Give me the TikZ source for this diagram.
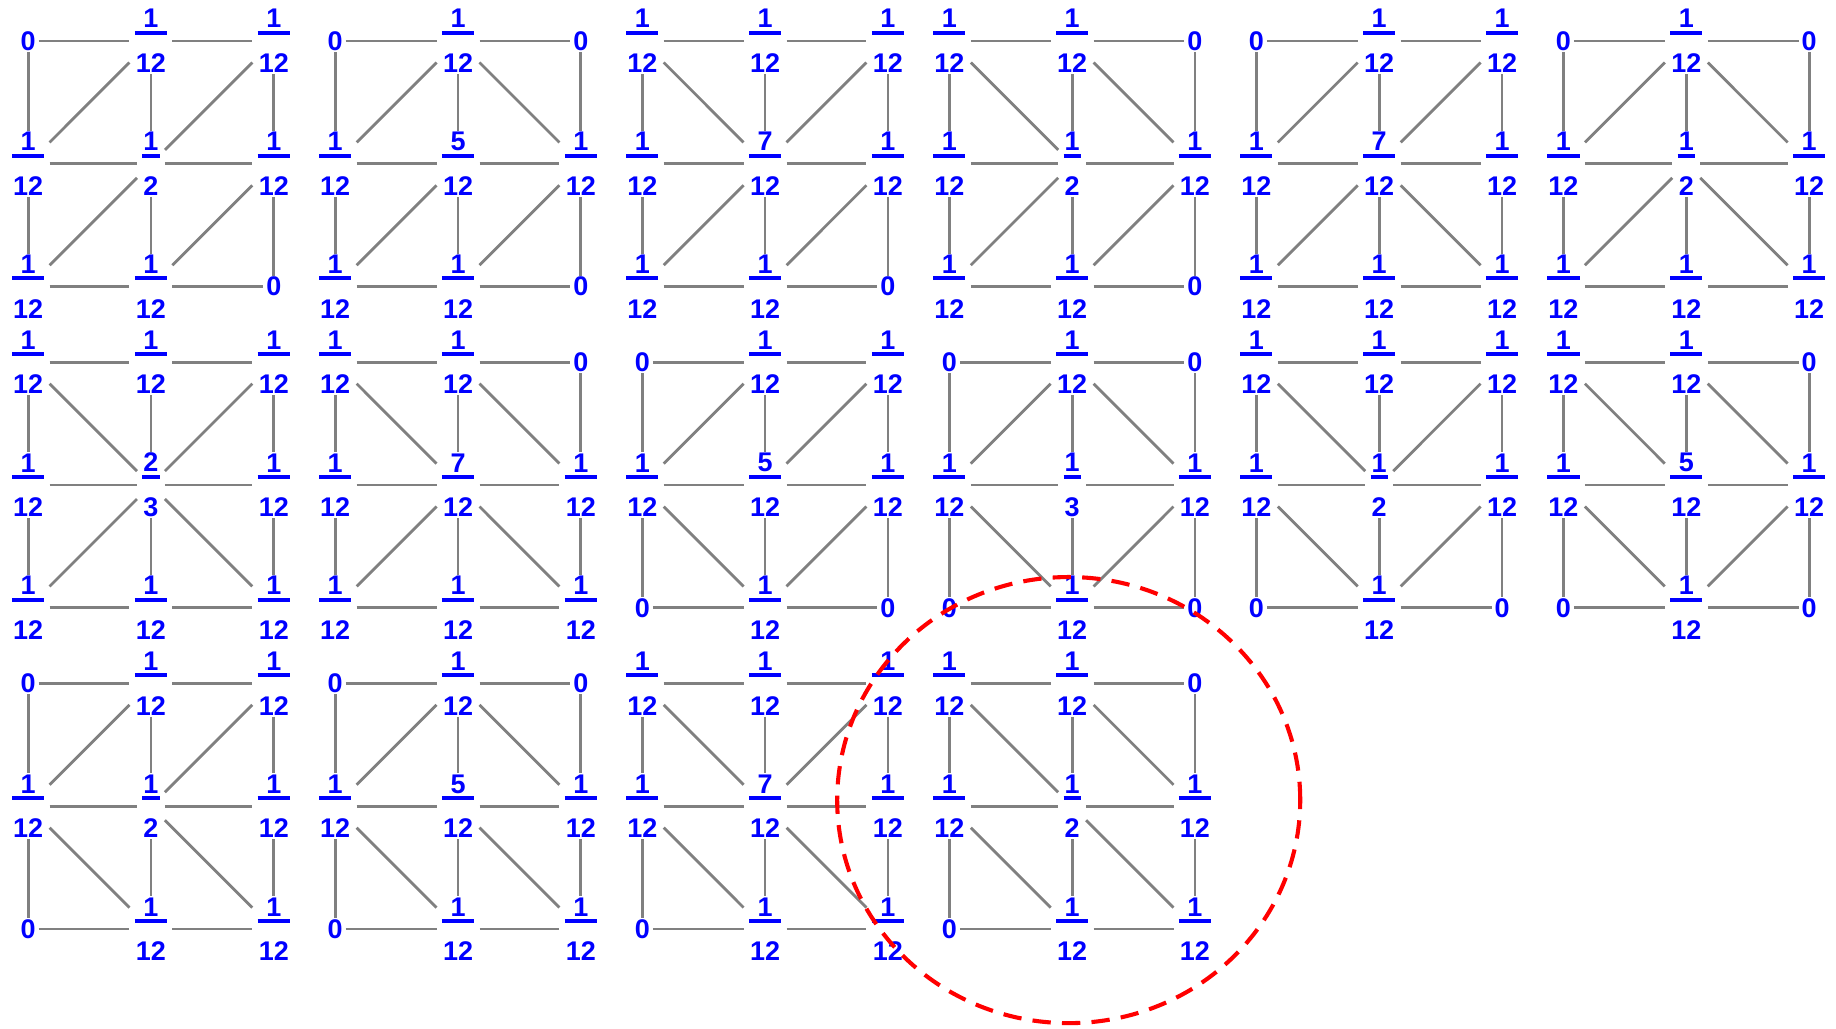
\documentclass[tikz,border=0pt]{standalone}
\usepackage{fontspec}
\setmainfont{Liberation Sans}
\definecolor{edgegray}{RGB}{128,128,128}

\newcommand{\vfr}[2]{\vbox{\offinterlineskip
  \halign{\hfil\kern0.5pt##\kern0.5pt\hfil\cr
    #1\cr
    \noalign{\kern1.3pt\hrule height1.85pt\kern8.8pt}
    #2\cr}}}

\newcommand{\panel}[4]{%
  \begin{scope}[shift={#2}]
    \foreach \nm/\dn [count=\i from 0] in {#3} {
      \pgfmathtruncatemacro\rowi{div(\i,3)}
      \pgfmathtruncatemacro\coli{mod(\i,3)}
      \ifnum\dn=1\relax
        \node[vzero] (#1-\rowi\coli) at (\coli,-\rowi) {\nm};
      \else
        \node[vfrac] (#1-\rowi\coli) at (\coli,-\rowi) {\vfr{\nm}{\dn}};
      \fi
    }
    \foreach \rowi in {0,1,2} {
      \foreach \coli/\colj in {0/1,1/2} {
        \draw[link] (#1-\rowi\coli) -- (#1-\rowi\colj);
        \draw[link] (#1-\coli\rowi) -- (#1-\colj\rowi);
      }
    }
    \foreach \dg [count=\k from 0] in {#4} {
      \pgfmathtruncatemacro\rowi{div(\k,2)}
      \pgfmathtruncatemacro\coli{mod(\k,2)}
      \pgfmathtruncatemacro\rowj{\rowi+1}
      \pgfmathtruncatemacro\colj{\coli+1}
      \if\dg u
        \draw[link] (#1-\rowj\coli) -- (#1-\rowi\colj);
      \else
        \draw[link] (#1-\rowi\coli) -- (#1-\rowj\colj);
      \fi
    }
  \end{scope}}

\begin{document}
\begin{tikzpicture}[x=2cm, y=2cm,
  vfrac/.style={inner xsep=2.3pt, inner ysep=0.5pt, text=blue,
    font=\fontsize{12.5}{12.5}\selectfont\bfseries},
  vzero/.style={vfrac, inner xsep=1.2pt},
  link/.style={draw=edgegray, line width=1.3pt},
  ring/.style={draw=red, line width=1.9pt, dash pattern=on 8.5pt off 5.2pt}]
  \useasboundingbox (-0.229,0.334) rectangle (14.719,-8.036);

  \panel{p1}{(0,0)}{0/1,1/12,1/12,1/12,1/2,1/12,1/12,1/12,0/1}{u,u,u,u}
  \panel{p2}{(2.5,0)}{0/1,1/12,0/1,1/12,5/12,1/12,1/12,1/12,0/1}{u,d,u,u}
  \panel{p3}{(5,0)}{1/12,1/12,1/12,1/12,7/12,1/12,1/12,1/12,0/1}{d,u,u,u}
  \panel{p4}{(7.5,0)}{1/12,1/12,0/1,1/12,1/2,1/12,1/12,1/12,0/1}{d,d,u,u}
  \panel{p5}{(10,0)}{0/1,1/12,1/12,1/12,7/12,1/12,1/12,1/12,1/12}{u,u,u,d}
  \panel{p6}{(12.5,0)}{0/1,1/12,0/1,1/12,1/2,1/12,1/12,1/12,1/12}{u,d,u,d}

  \panel{p7}{(0,-2.615)}{1/12,1/12,1/12,1/12,2/3,1/12,1/12,1/12,1/12}{d,u,u,d}
  \panel{p8}{(2.5,-2.615)}{1/12,1/12,0/1,1/12,7/12,1/12,1/12,1/12,1/12}{d,d,u,d}
  \panel{p9}{(5,-2.615)}{0/1,1/12,1/12,1/12,5/12,1/12,0/1,1/12,0/1}{u,u,d,u}
  \panel{p10}{(7.5,-2.615)}{0/1,1/12,0/1,1/12,1/3,1/12,0/1,1/12,0/1}{u,d,d,u}
  \panel{p11}{(10,-2.615)}{1/12,1/12,1/12,1/12,1/2,1/12,0/1,1/12,0/1}{d,u,d,u}
  \panel{p12}{(12.5,-2.615)}{1/12,1/12,0/1,1/12,5/12,1/12,0/1,1/12,0/1}{d,d,d,u}

  \panel{p13}{(0,-5.23)}{0/1,1/12,1/12,1/12,1/2,1/12,0/1,1/12,1/12}{u,u,d,d}
  \panel{p14}{(2.5,-5.23)}{0/1,1/12,0/1,1/12,5/12,1/12,0/1,1/12,1/12}{u,d,d,d}
  \panel{p15}{(5,-5.23)}{1/12,1/12,1/12,1/12,7/12,1/12,0/1,1/12,1/12}{d,u,d,d}
  \panel{p16}{(7.5,-5.23)}{1/12,1/12,0/1,1/12,1/2,1/12,0/1,1/12,1/12}{d,d,d,d}

  \coordinate (focus) at (8.472,-6.18);
  \draw[ring] (focus) ellipse [x radius=1.885, y radius=1.816];
\end{tikzpicture}
\end{document}
